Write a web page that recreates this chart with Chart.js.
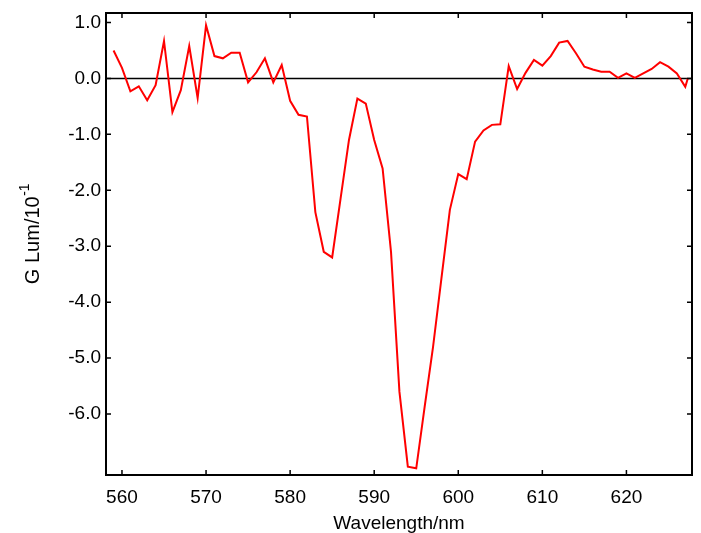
<!DOCTYPE html>
<html>
<head>
<meta charset="utf-8">
<script src="https://cdn.jsdelivr.net/npm/chart.js@4/dist/chart.umd.min.js"></script>
<style>
  html, body { margin: 0; padding: 0; background: #ffffff; }
  #wrap { width: 701px; height: 533px; }
</style>
</head>
<body>
<div id="wrap"><canvas id="c" width="701" height="533"></canvas></div>
<script>
// ---- data ----
const wavelengths = [559,560,561,562,563,564,565,566,567,568,569,570,571,572,573,574,575,576,577,578,579,
  580,581,582,583,584,585,586,587,588,589,590,591,592,593,594,595,596,597,598,599,
  600,601,602,603,604,605,606,607,608,609,610,611,612,613,614,615,616,617,618,619,
  620,621,622,623,624,625,626,627,627.3];
const gLum = [0.50,0.19,-0.23,-0.14,-0.39,-0.12,0.67,-0.60,-0.21,0.58,-0.35,0.95,0.40,0.36,0.46,0.46,-0.07,0.11,0.36,-0.07,0.24,
  -0.40,-0.65,-0.68,-2.39,-3.10,-3.20,-2.15,-1.10,-0.36,-0.45,-1.10,-1.61,-3.10,-5.60,-6.94,-6.97,-5.87,-4.80,-3.57,-2.35,
  -1.71,-1.80,-1.13,-0.93,-0.83,-0.82,0.22,-0.19,0.10,0.33,0.23,0.40,0.64,0.67,0.45,0.21,0.16,0.12,0.12,0.01,
  0.09,0.01,0.09,0.17,0.29,0.21,0.09,-0.15,0.00];
const xTicks = [560,570,580,590,600,610,620];
const yTicks = [1,0,-1,-2,-3,-4,-5,-6];
const xTitle = 'Wavelength/nm';
const yTitleMain = 'G Lum/10';
const yTitleSup = '-1';

const FONT = '"Liberation Sans", Arial, sans-serif';

const framePlugin = {
  id: 'frame',
  beforeDatasetsDraw(chart) {
    const {ctx, chartArea: a, scales} = chart;
    const y0 = scales.y.getPixelForValue(0);
    ctx.save();
    ctx.strokeStyle = '#000';
    ctx.lineWidth = 1.6;
    ctx.beginPath();
    ctx.moveTo(a.left, y0);
    ctx.lineTo(a.right, y0);
    ctx.stroke();
    ctx.restore();
  },
  afterDatasetsDraw(chart) {
    const {ctx, chartArea: a, scales} = chart;
    ctx.save();
    ctx.strokeStyle = '#000';
    ctx.lineWidth = 2;
    ctx.strokeRect(a.left, a.top, a.right - a.left, a.bottom - a.top);
    ctx.lineWidth = 1.5;
    const L = 5;
    ctx.beginPath();
    xTicks.forEach(v => {
      const px = scales.x.getPixelForValue(v);
      ctx.moveTo(px, a.bottom); ctx.lineTo(px, a.bottom - L);
      ctx.moveTo(px, a.top); ctx.lineTo(px, a.top + L);
    });
    yTicks.forEach(v => {
      const py = scales.y.getPixelForValue(v);
      ctx.moveTo(a.left, py); ctx.lineTo(a.left + L, py);
      ctx.moveTo(a.right, py); ctx.lineTo(a.right - L, py);
    });
    ctx.stroke();
    // y title with superscript
    ctx.fillStyle = '#000';
    ctx.textBaseline = 'middle';
    ctx.textAlign = 'left';
    const mainFont = '20px ' + FONT, supFont = '14px ' + FONT;
    ctx.font = mainFont;
    const w1 = ctx.measureText(yTitleMain).width;
    ctx.font = supFont;
    const w2 = ctx.measureText(yTitleSup).width;
    const cy = 234;
    ctx.translate(33, cy);
    ctx.rotate(-Math.PI / 2);
    const x0 = -(w1 + w2) / 2;
    ctx.font = mainFont;
    ctx.fillText(yTitleMain, x0, 0);
    ctx.font = supFont;
    ctx.fillText(yTitleSup, x0 + w1 + 0.5, -8);
    ctx.restore();
  }
};

new Chart(document.getElementById('c'), {
  type: 'line',
  data: {
    datasets: [{
      data: wavelengths.map((w, i) => ({x: w, y: gLum[i]})),
      borderColor: '#ff0000',
      borderWidth: 2,
      pointRadius: 0,
      tension: 0,
      fill: false
    }]
  },
  options: {
    responsive: false,
    animation: false,
    devicePixelRatio: 1,
    layout: { padding: { left: 0, top: 13, right: 9, bottom: 0 } },
    plugins: { legend: { display: false }, tooltip: { enabled: false } },
    scales: {
      x: {
        type: 'linear',
        min: 558.1,
        max: 627.8,
        grid: { display: false, drawTicks: false },
        border: { display: false },
        afterBuildTicks(s) { s.ticks = xTicks.map(v => ({value: v})); },
        afterFit(s) { s.height = 58; s.paddingLeft = 0; s.paddingRight = 0; },
        ticks: {
          color: '#000',
          padding: 11,
          maxRotation: 0,
          autoSkip: false,
          font: { family: FONT, size: 19 },
          callback: v => String(v)
        },
        title: {
          display: true,
          text: xTitle,
          color: '#000',
          font: { family: FONT, size: 19 },
          padding: { top: 0, bottom: -2 }
        }
      },
      y: {
        type: 'linear',
        min: -7.09,
        max: 1.17,
        grid: { display: false, drawTicks: false },
        border: { display: false },
        afterBuildTicks(s) { s.ticks = yTicks.map(v => ({value: v})); },
        afterFit(s) { s.width = 106; s.paddingTop = 0; s.paddingBottom = 0; },
        ticks: {
          color: '#000',
          padding: 5,
          autoSkip: false,
          font: { family: FONT, size: 19 },
          callback: v => Number(v).toFixed(1)
        }
      }
    }
  },
  plugins: [framePlugin]
});
</script>
</body>
</html>
